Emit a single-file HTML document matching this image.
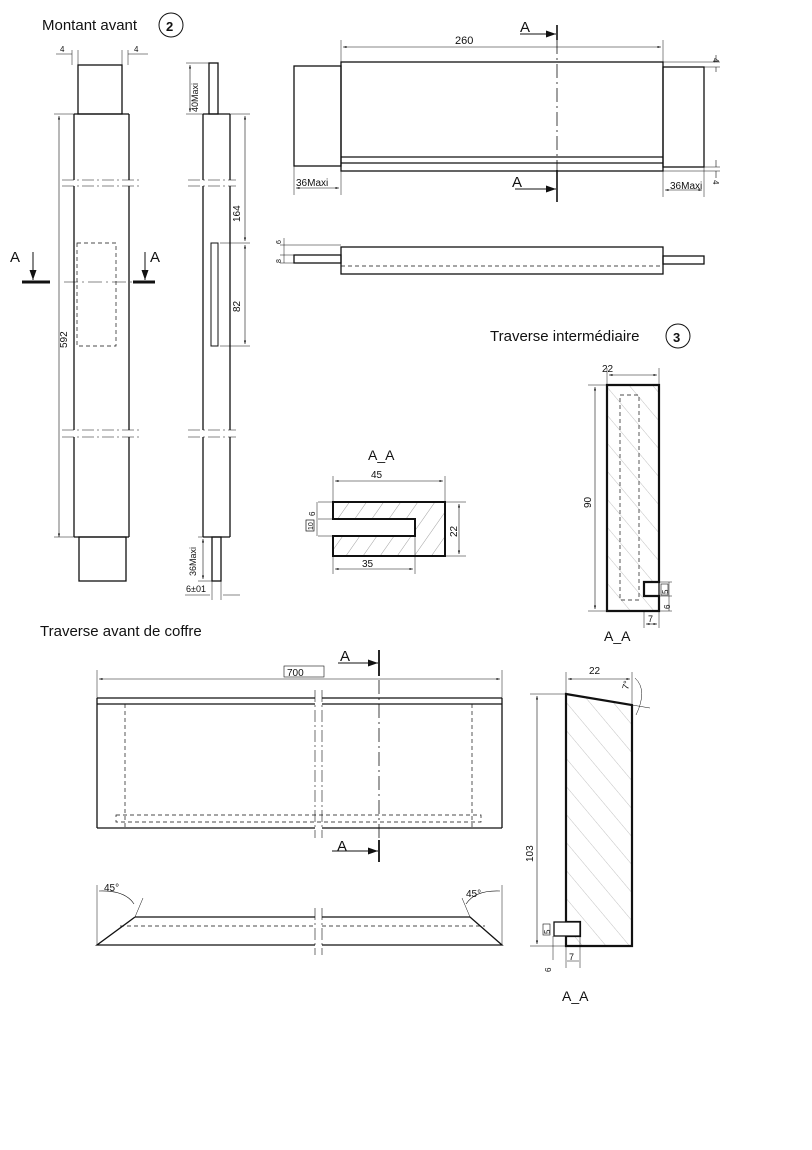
<!DOCTYPE html>
<html><head><meta charset="utf-8"><style>
html,body{margin:0;padding:0;background:#fff;}
svg{display:block;}
text{font-family:"Liberation Sans",sans-serif;fill:#111;}
</style></head><body>
<svg width="812" height="1150" viewBox="0 0 812 1150" xmlns="http://www.w3.org/2000/svg">
<defs>
<marker id="ar" viewBox="0 0 10 10" refX="10" refY="5" markerWidth="6" markerHeight="6" orient="auto-start-reverse"><path d="M0,2 L10,5 L0,8z" fill="#111"/></marker>
<marker id="ab" viewBox="0 0 10 10" refX="10" refY="5" markerWidth="10" markerHeight="10" markerUnits="userSpaceOnUse" orient="auto"><path d="M0,1.5 L10,5 L0,8.5z" fill="#111"/></marker>
<pattern id="hatch" width="14" height="14" patternUnits="userSpaceOnUse" patternTransform="rotate(35)"><line x1="0" y1="0" x2="0" y2="14" stroke="#777" stroke-width="0.7"/></pattern>
<pattern id="hatch2" width="18" height="18" patternUnits="userSpaceOnUse" patternTransform="rotate(-40)"><line x1="0" y1="0" x2="0" y2="18" stroke="#999" stroke-width="0.6"/></pattern>
</defs>
<g stroke="#111" fill="none" stroke-width="1.3">

<!-- ===== Montant avant ===== -->
<text x="42" y="30" font-size="15" stroke="none">Montant avant</text>
<circle cx="171" cy="25" r="12" stroke-width="1"/>
<text x="166" y="31" font-size="13" font-weight="bold" stroke="none">2</text>
<rect x="78" y="65" width="44" height="49"/>
<path d="M74 114 H129 M74 114 V180 M129 114 V180 M74 186 V430 M129 186 V430 M74 437 V537 M129 437 V537 M74 537 H129"/>
<rect x="79" y="537" width="47" height="44"/>
<path d="M62 180 H140 M62 186 H140 M62 430 H140 M62 437 H140" stroke-width="0.6" stroke-dasharray="12,3,2,3"/>
<rect x="77" y="243" width="39" height="103" stroke-width="0.7" stroke-dasharray="4,3"/>
<path d="M64 282 H140" stroke-width="0.6" stroke-dasharray="14,4,2,4"/>
<path d="M22 282 H50 M133 282 H155" stroke-width="3"/>
<path d="M33 252 V280" stroke-width="1" marker-end="url(#ab)"/>
<path d="M145 252 V280" stroke-width="1" marker-end="url(#ab)"/>
<text x="10" y="262" font-size="15" stroke="none">A</text>
<text x="150" y="262" font-size="15" stroke="none">A</text>
<path d="M59 116 V537" stroke-width="0.6" marker-start="url(#ar)" marker-end="url(#ar)"/>
<path d="M54 114 H74 M54 537 H74" stroke-width="0.5"/>
<text x="0" y="0" font-size="10" stroke="none" transform="translate(67,348) rotate(-90)">592</text>
<path d="M72 50 V65 M78 50 V65 M122 50 V65 M128 50 V65" stroke-width="0.5"/>
<path d="M56 54 H72 M128 54 H148" stroke-width="0.6"/>
<text x="60" y="52" font-size="8" stroke="none">4</text>
<text x="134" y="52" font-size="8" stroke="none">4</text>
<rect x="209" y="63" width="9" height="51"/>
<path d="M203 114 H230 M203 114 V180 M230 114 V180 M203 186 V430 M230 186 V430 M203 437 V537 M230 437 V537 M203 537 H230"/>
<rect x="212" y="537" width="9" height="44"/>
<path d="M188 180 H236 M188 186 H236 M188 430 H236 M188 437 H236" stroke-width="0.6" stroke-dasharray="12,3,2,3"/>
<rect x="211" y="243" width="7" height="103" stroke-width="1"/>
<path d="M190 65 V112" stroke-width="0.6" marker-start="url(#ar)" marker-end="url(#ar)"/>
<path d="M186 63 H209 M186 114 H203" stroke-width="0.5"/>
<text x="0" y="0" font-size="9" stroke="none" transform="translate(198,112) rotate(-90)">40Maxi</text>
<path d="M245 116 V241" stroke-width="0.6" marker-start="url(#ar)" marker-end="url(#ar)"/>
<path d="M245 245 V344" stroke-width="0.6" marker-start="url(#ar)" marker-end="url(#ar)"/>
<path d="M230 114 H250 M220 243 H250 M220 346 H250" stroke-width="0.5"/>
<text x="0" y="0" font-size="10" stroke="none" transform="translate(240,222) rotate(-90)">164</text>
<text x="0" y="0" font-size="10" stroke="none" transform="translate(240,312) rotate(-90)">82</text>
<path d="M203 539 V579" stroke-width="0.6" marker-start="url(#ar)" marker-end="url(#ar)"/>
<path d="M198 537 H212 M198 581 H212 M212 581 V600 M221 581 V600" stroke-width="0.5"/>
<text x="0" y="0" font-size="9" stroke="none" transform="translate(196,576) rotate(-90)">36Maxi</text>
<path d="M185 595 H210 M223 595 H240" stroke-width="0.6"/>
<text x="186" y="592" font-size="9" stroke="none">6±01</text>

<!-- ===== Top right traverse ===== -->
<rect x="294" y="66" width="47" height="100"/>
<rect x="341" y="62" width="322" height="109"/>
<rect x="663" y="67" width="41" height="100"/>
<path d="M341 157 H663 M341 163 H663"/>
<path d="M557 25 V40 M557 170 V202" stroke-width="1.6"/>
<path d="M557 40 V170" stroke-width="0.8" stroke-dasharray="14,4,2,4"/>
<path d="M520 34 H556" stroke-width="1" marker-end="url(#ab)"/>
<path d="M515 189 H556" stroke-width="1" marker-end="url(#ab)"/>
<text x="520" y="32" font-size="15" stroke="none">A</text>
<text x="512" y="187" font-size="15" stroke="none">A</text>
<path d="M343 47 H661" stroke-width="0.6" marker-start="url(#ar)" marker-end="url(#ar)"/>
<path d="M341 40 V62 M663 40 V62" stroke-width="0.5"/>
<text x="455" y="44" font-size="11" stroke="none">260</text>
<path d="M296 188 H339" stroke-width="0.6" marker-start="url(#ar)" marker-end="url(#ar)"/>
<path d="M665 190 H702" stroke-width="0.6" marker-start="url(#ar)" marker-end="url(#ar)"/>
<path d="M294 166 V195 M341 171 V195 M663 171 V197 M704 167 V197" stroke-width="0.5"/>
<text x="296" y="186" font-size="10" stroke="none">36Maxi</text>
<text x="670" y="189" font-size="10" stroke="none">36Maxi</text>
<path d="M663 62 H720 M704 67 H720 M704 167 H720 M663 171 H720" stroke-width="0.5"/>
<path d="M716 55 V62 M716 67 V72 M716 160 V167 M716 171 V178" stroke-width="0.6"/>
<text x="0" y="0" font-size="8" stroke="none" transform="translate(713,58) rotate(90)">4</text>
<text x="0" y="0" font-size="8" stroke="none" transform="translate(713,180) rotate(90)">4</text>
<rect x="341" y="247" width="322" height="27"/>
<rect x="294" y="255" width="47" height="8"/>
<rect x="663" y="256" width="41" height="8"/>
<path d="M341 266 H663" stroke-width="0.7" stroke-dasharray="4,3"/>
<path d="M280 245 H341 M280 255 H294 M280 263 H294" stroke-width="0.5"/>
<path d="M284 238 V255 M284 255 V263" stroke-width="0.5"/>
<text x="0" y="0" font-size="7" stroke="none" transform="translate(281,244) rotate(-90)">6</text>
<text x="0" y="0" font-size="7" stroke="none" transform="translate(281,263) rotate(-90)">8</text>

<!-- ===== A-A section ===== -->
<text x="368" y="460" font-size="14" stroke="none">A_A</text>
<text x="371" y="478" font-size="10" stroke="none">45</text>
<path d="M335 481 H443" stroke-width="0.6" marker-start="url(#ar)" marker-end="url(#ar)"/>
<path d="M333 476 V502 M445 476 V502" stroke-width="0.5"/>
<path d="M333 502 H445 V556 H333 V536 H415 V519 H333 Z" fill="url(#hatch)" stroke-width="2"/>
<path d="M335 569 H413" stroke-width="0.6" marker-start="url(#ar)" marker-end="url(#ar)"/>
<path d="M333 556 V574 M415 536 V574" stroke-width="0.5"/>
<text x="362" y="567" font-size="10" stroke="none">35</text>
<path d="M459 504 V554" stroke-width="0.6" marker-start="url(#ar)" marker-end="url(#ar)"/>
<path d="M445 502 H466 M445 556 H466" stroke-width="0.5"/>
<text x="0" y="0" font-size="10" stroke="none" transform="translate(457,537) rotate(-90)">22</text>
<path d="M318 502 H333 M318 519 H333 M318 536 H333 M317 502 V536" stroke-width="0.5"/>
<text x="0" y="0" font-size="8" stroke="none" transform="translate(315,516) rotate(-90)">6</text>
<rect x="306" y="520" width="8" height="11" stroke-width="0.7"/>
<text x="0" y="0" font-size="7" stroke="none" transform="translate(313,530) rotate(-90)">10</text>

<!-- ===== Traverse intermédiaire ===== -->
<text x="490" y="341" font-size="15" stroke="none">Traverse intermédiaire</text>
<circle cx="678" cy="336" r="12" stroke-width="1"/>
<text x="673" y="342" font-size="13" font-weight="bold" stroke="none">3</text>
<path d="M607 385 H659 V582 H644 V596 H659 V611 H607 Z" fill="url(#hatch2)" stroke-width="2.2"/>
<rect x="620" y="395" width="19" height="205" stroke-width="0.7" stroke-dasharray="4,3"/>
<rect x="644" y="582" width="15" height="14" stroke-width="1.3"/>
<text x="602" y="372" font-size="10" stroke="none">22</text>
<path d="M609 375 H657" stroke-width="0.6" marker-start="url(#ar)" marker-end="url(#ar)"/>
<path d="M607 368 V385 M659 368 V385" stroke-width="0.5"/>
<path d="M595 387 V609" stroke-width="0.6" marker-start="url(#ar)" marker-end="url(#ar)"/>
<path d="M588 385 H607 M588 611 H607" stroke-width="0.5"/>
<text x="0" y="0" font-size="10" stroke="none" transform="translate(591,508) rotate(-90)">90</text>
<path d="M659 582 H672 M659 596 H672 M659 611 H672 M669 582 V611" stroke-width="0.5"/>
<rect x="661" y="584" width="7" height="11" stroke-width="0.6"/>
<text x="0" y="0" font-size="8" stroke="none" transform="translate(668,594) rotate(-90)">5</text>
<text x="0" y="0" font-size="8" stroke="none" transform="translate(670,609) rotate(-90)">6</text>
<path d="M646 624 H657" stroke-width="0.6" marker-start="url(#ar)" marker-end="url(#ar)"/>
<path d="M644 611 V628 M659 611 V628" stroke-width="0.5"/>
<text x="648" y="622" font-size="9" stroke="none">7</text>
<text x="604" y="641" font-size="14" stroke="none">A_A</text>

<!-- ===== Traverse avant de coffre ===== -->
<text x="40" y="636" font-size="15" stroke="none">Traverse avant de coffre</text>
<path d="M97 698 H315 M322 698 H502 M97 704 H315 M322 704 H502 M97 828 H315 M322 828 H502 M97 698 V828 M502 698 V828"/>
<path d="M315 690 V838 M322 690 V838" stroke-width="0.6" stroke-dasharray="12,3,2,3"/>
<path d="M125 704 V828 M472 704 V828" stroke-width="0.7" stroke-dasharray="4,3"/>
<rect x="116" y="815" width="365" height="7" stroke-width="0.7" stroke-dasharray="4,3"/>
<path d="M379 650 V676 M379 840 V862" stroke-width="1.8"/>
<path d="M379 680 V840" stroke-width="0.8" stroke-dasharray="14,4,2,4"/>
<path d="M338 663 H378" stroke-width="1" marker-end="url(#ab)"/>
<path d="M332 851 H378" stroke-width="1" marker-end="url(#ab)"/>
<text x="340" y="661" font-size="15" stroke="none">A</text>
<text x="337" y="851" font-size="15" stroke="none">A</text>
<path d="M99 679 H500" stroke-width="0.6" marker-start="url(#ar)" marker-end="url(#ar)"/>
<path d="M97 670 V698 M502 670 V698" stroke-width="0.5"/>
<rect x="284" y="666" width="40" height="11" stroke-width="0.6" fill="#fff"/>
<text x="287" y="676" font-size="10" stroke="none">700</text>
<path d="M135 917 H315 M322 917 H470 L502 945 H322 M315 945 H97 L135 917"/>
<path d="M120 926 H315 M322 926 H485" stroke-width="0.7" stroke-dasharray="4,3"/>
<path d="M315 908 V955 M322 908 V955" stroke-width="0.6" stroke-dasharray="12,3,2,3"/>
<path d="M97 885 V945 M502 885 V945 M135 917 L143 898 M470 917 L462 898" stroke-width="0.5"/>
<path d="M99 891 Q125 890 134 904 M500 891 Q475 890 466 904" stroke-width="0.6"/>
<text x="104" y="891" font-size="10" stroke="none">45°</text>
<text x="466" y="897" font-size="10" stroke="none">45°</text>

<!-- right section -->
<path d="M566 694 L632 705 V946 H566 V936 H580 V922 H566 Z" fill="url(#hatch2)" stroke-width="2.2"/>
<rect x="554" y="922" width="26" height="14" stroke-width="1.3" fill="#fff"/>
<path d="M568 679 H630" stroke-width="0.6" marker-start="url(#ar)" marker-end="url(#ar)"/>
<path d="M566 672 V694 M632 672 V705" stroke-width="0.5"/>
<text x="589" y="674" font-size="10" stroke="none">22</text>
<path d="M632 705 L650 708 M635 678 Q648 690 636 715" stroke-width="0.5"/>
<text x="0" y="0" font-size="9" stroke="none" transform="translate(628,690) rotate(-75)">7°</text>
<path d="M537 696 V944" stroke-width="0.6" marker-start="url(#ar)" marker-end="url(#ar)"/>
<path d="M530 694 H566 M530 946 H566" stroke-width="0.5"/>
<text x="0" y="0" font-size="10" stroke="none" transform="translate(533,862) rotate(-90)">103</text>
<rect x="543" y="924" width="7" height="11" stroke-width="0.6"/>
<text x="0" y="0" font-size="8" stroke="none" transform="translate(550,934) rotate(-90)">5</text>
<path d="M553 936 V960" stroke-width="0.5"/>
<text x="0" y="0" font-size="8" stroke="none" transform="translate(551,972) rotate(-90)">6</text>
<path d="M566 946 V968 M580 936 V968 M567 961 H579" stroke-width="0.5"/>
<text x="569" y="960" font-size="9" stroke="none">7</text>
<text x="562" y="1001" font-size="14" stroke="none">A_A</text>
</g>
</svg>
</body></html>
